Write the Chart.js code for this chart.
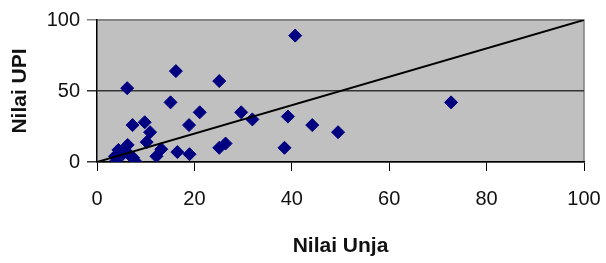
<!DOCTYPE html>
<html>
<head>
<meta charset="utf-8">
<script src="https://cdn.jsdelivr.net/npm/chart.js@4/dist/chart.umd.min.js"></script>
<style>
  html, body { margin: 0; padding: 0; background: #fff; }
  #wrap { width: 606px; height: 263px; }
</style>
</head>
<body>
<div id="wrap"><canvas id="chart"></canvas></div>
<script>
// values
const unjaValues = [40.7, 16.2, 25.1, 6.2, 15.1, 21.1, 29.6, 31.9, 39.2, 44.2, 49.5, 72.7,
  7.3, 9.8, 10.9, 10.2, 18.9, 38.5, 25.1, 26.4, 16.5, 19, 13.2, 12.2, 8, 6.3,
  4.4, 3.7, 4, 5.4, 6.7, 7.4];
const upiValues = [89, 64, 57, 52, 42, 35, 35, 30, 32, 26, 21, 42,
  26, 28, 21, 14, 26, 10, 10, 13, 7, 5.5, 9, 4, 0, 12,
  8.5, 4, 1, 6, 5, 3];
const refLineX = [0, 100];
const refLineY = [0, 100];
const xTicks = [0, 20, 40, 60, 80, 100];
const yTicks = [0, 50, 100];

const points = unjaValues.map((v, i) => ({ x: v, y: upiValues[i] }));
const refLine = refLineX.map((v, i) => ({ x: v, y: refLineY[i] }));

// grey plot area with a grey frame on top/right
const plotBg = {
  id: 'plotBg',
  beforeDraw(chart) {
    const { ctx, chartArea: a } = chart;
    ctx.save();
    ctx.fillStyle = '#c0c0c0';
    ctx.fillRect(a.left, a.top, a.right - a.left, a.bottom - a.top);
    ctx.strokeStyle = '#808080';
    ctx.lineWidth = 1.5;
    ctx.beginPath();
    ctx.moveTo(a.left, a.top);
    ctx.lineTo(a.right, a.top);
    ctx.lineTo(a.right, a.bottom);
    ctx.stroke();
    ctx.restore();
  }
};

const font = 'Liberation Sans, Arial';

new Chart(document.getElementById('chart'), {
  type: 'scatter',
  data: {
    datasets: [
      {
        type: 'line',
        data: refLine,
        borderColor: '#000',
        borderWidth: 2,
        pointRadius: 0,
        fill: false,
        order: 0
      },
      {
        data: points,
        pointStyle: 'rectRot',
        pointRadius: 6.5,
        pointHoverRadius: 6.5,
        backgroundColor: '#000080',
        borderColor: '#000080',
        borderWidth: 1,
        order: 1
      }
    ]
  },
  options: {
    responsive: true,
    maintainAspectRatio: false,
    animation: false,
    layout: { padding: { left: 0, right: 22, top: 20, bottom: 0 } },
    plugins: { legend: { display: false }, tooltip: { enabled: false } },
    scales: {
      x: {
        type: 'linear',
        min: 0, max: 100,
        afterFit(s) { s.height = 101; s.paddingLeft = 0; s.paddingRight = 0; },
        afterBuildTicks(s) { s.ticks = xTicks.map(v => ({ value: v })); },
        grid: { drawOnChartArea: false, tickLength: 9, color: '#000', lineWidth: 1 },
        border: { color: '#000', width: 1.5 },
        ticks: { padding: 16, color: '#111', font: { family: font, size: 20 } },
        title: {
          display: true, text: 'Nilai Unja', color: '#111',
          font: { family: font, size: 21, weight: 'bold' },
          padding: { top: 0, bottom: 4 }
        }
      },
      y: {
        type: 'linear',
        min: 0, max: 100,
        afterFit(s) { s.width = 97; s.paddingTop = 0; s.paddingBottom = 0; },
        afterBuildTicks(s) { s.ticks = yTicks.map(v => ({ value: v })); },
        grid: {
          tickLength: 10,
          lineWidth: 1.5,
          color: ctx => (ctx.tick && ctx.tick.value === 100) ? '#808080' : '#333'
        },
        border: { color: '#000', width: 1.5 },
        ticks: { padding: 7, color: '#111', font: { family: font, size: 20 } },
        title: {
          display: true, text: 'Nilai UPI', color: '#111',
          font: { family: font, size: 21, weight: 'bold' },
          padding: { top: 8, bottom: 0 }
        }
      }
    }
  },
  plugins: [plotBg]
});
</script>
</body>
</html>
